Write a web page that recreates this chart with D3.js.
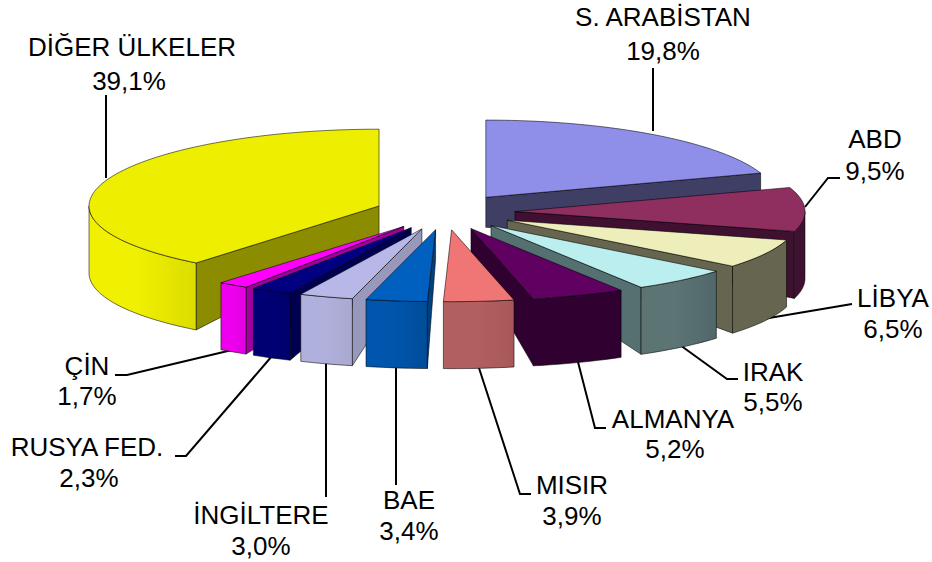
<!DOCTYPE html>
<html>
<head>
<meta charset="utf-8">
<script src="https://cdn.jsdelivr.net/npm/d3@7"></script>
<style>
  html, body { margin: 0; padding: 0; background: #fff; }
  text { font-family: "Liberation Sans", Arial, sans-serif; font-size: 26px; fill: #000; }
</style>
</head>
<body>
<div id="container"></div>
<script>
/* DATA */
const countries = ["S. ARABİSTAN", "ABD", "LİBYA", "IRAK", "ALMANYA", "MISIR", "BAE", "İNGİLTERE", "RUSYA FED.", "ÇİN", "DİĞER ÜLKELER"]
const shares = [19.8, 9.5, 6.5, 5.5, 5.2, 3.9, 3.4, 3.0, 2.3, 1.7, 39.1]

/* STYLES AND LAYOUT */
const topColors = ["#8f8fea", "#8f2f5f", "#eeeebb", "#bbeeee", "#600060", "#f07575", "#0060c0", "#b8b8e8", "#000080", "#ff00ff", "#eeee00"]
const rimDark = ["#3f3f66", "#3f1030", "#666650", "#50686a", "#300030", "#a85858", "#004c98", "#a8a8d0", "#00006c", "#e000e0", "#dcdc00"]
const rimLight = ["#3f3f66", "#3f1030", "#666650", "#5c7474", "#300030", "#b06060", "#0056ac", "#b0b0dc", "#000074", "#ee00ee", "#f0f000"]
const sideColors = ["#3f3f66", "#3f1030", "#666650", "#557070", "#300030", "#a85858", "#004080", "#9898bc", "#000050", "#a000a0", "#8c8c00"]

const labelPos = [[663, 26], [875, 148], [893, 307], [773, 381], [673, 428], [572, 494], [409, 509], [261, 524], [87, 456], [87, 375], [132, 56]]
const valuePos = [[663, 60], [875, 180], [893, 338], [773, 411], [675, 458], [572, 525], [409, 540], [261, 555], [89, 487], [87, 405], [129, 90]]
const leaders = [
  [[653, 131], [653, 68]],
  [[805, 207], [828, 178], [840, 178]],
  [[763, 319], [852, 304]],
  [[680, 345], [727, 379], [738, 379]],
  [[578, 362], [595, 428], [606, 428]],
  [[478, 365], [520, 494], [531, 494]],
  [[396, 365], [396, 485]],
  [[326, 360], [326, 497]],
  [[272, 356], [186, 456], [175, 456]],
  [[232, 350], [127, 375], [115, 375]],
  [[106, 178], [106, 95]]
]

const width = 932, height = 562
const cx = 445, cy = 212
const radius = 290, explode = 70
const tilt = 0.257, persp = 0.000087

const svg = d3.select("#container").append("svg")
  .attr("width", width)
  .attr("height", height)
  .style("display", "block")

// PIE ANGLES (0 = 12 o'clock, clockwise)
const arcs = d3.pie().sort(null).value(d => d)(shares)
  .map((a, i) => ({...a, i, mid: (a.startAngle + a.endAngle) / 2}))

// thickness grows from tip to rim
const depth = d3.scaleLinear().domain([0, radius]).range([30, 67])

// ground plane -> screen, for a slice pushed out along its mid angle
function pt(a, r, ang, down) {
  const u = explode * Math.sin(a.mid) + r * Math.sin(ang)
  const v = -(explode * Math.cos(a.mid) + r * Math.cos(ang))
  const y = cy + tilt * v / (1 + persp * v)
  return [cx + u, y + (down ? depth(r) : 0)]
}

function arcPoints(a, from, to, down) {
  const n = Math.max(2, Math.ceil((to - from) / 0.03))
  return d3.range(n + 1).map(k => pt(a, radius, from + (to - from) * k / n, down))
}

const poly = d3.line().curve(d3.curveLinearClosed)
const open = d3.line()

const defs = svg.append("defs")
arcs.forEach(a => {
  const g = defs.append("linearGradient").attr("id", "rim" + a.i)
  g.append("stop").attr("offset", 0).attr("stop-color", rimLight[a.i])
  g.append("stop").attr("offset", 0.45).attr("stop-color", rimLight[a.i])
  g.append("stop").attr("offset", 1).attr("stop-color", rimDark[a.i])
})

// LEADER LINES, under the slices
svg.append("g")
  .selectAll("path")
  .data(leaders)
  .join("path")
  .attr("d", d => open(d))
  .attr("fill", "none")
  .attr("stroke", "#000")
  .attr("stroke-width", 2)

// DRAW SLICES, back to front
const ordered = arcs.slice().sort((p, q) => d3.descending(Math.cos(p.mid), Math.cos(q.mid)))

const slices = svg.selectAll("g.slice")
  .data(ordered)
  .join("g")
  .attr("class", "slice")
  .attr("stroke", "#000")
  .attr("stroke-opacity", 0.55)
  .attr("stroke-width", 1)
  .attr("stroke-linejoin", "round")

function sideFace(a, ang) {
  return poly([pt(a, 0, ang), pt(a, radius, ang), pt(a, radius, ang, true), pt(a, 0, ang, true)])
}

slices.each(function(a) {
  const g = d3.select(this)
  // only the faces turned to the viewer
  if (Math.sin(a.endAngle) > 0.001)
    g.append("path").attr("d", sideFace(a, a.endAngle)).attr("fill", sideColors[a.i])
  if (Math.sin(a.startAngle) < -0.001)
    g.append("path").attr("d", sideFace(a, a.startAngle)).attr("fill", sideColors[a.i])
  const from = Math.max(a.startAngle, Math.PI / 2)
  const to = Math.min(a.endAngle, Math.PI * 1.5)
  if (to > from) {
    const rim = arcPoints(a, from, to, false).concat(arcPoints(a, from, to, true).reverse())
    g.append("path").attr("d", poly(rim)).attr("fill", `url(#rim${a.i})`)
  }
  const top = [pt(a, 0, a.startAngle)].concat(arcPoints(a, a.startAngle, a.endAngle, false))
  g.append("path").attr("d", poly(top)).attr("fill", topColors[a.i])
})

// LABELS
svg.append("g")
  .selectAll("text")
  .data(countries)
  .join("text")
  .attr("x", (d, i) => labelPos[i][0])
  .attr("y", (d, i) => labelPos[i][1])
  .attr("text-anchor", "middle")
  .text(d => d)

svg.append("g")
  .selectAll("text")
  .data(shares)
  .join("text")
  .attr("x", (d, i) => valuePos[i][0])
  .attr("y", (d, i) => valuePos[i][1])
  .attr("text-anchor", "middle")
  .text(d => d.toFixed(1).replace(".", ",") + "%")
</script>
</body>
</html>
